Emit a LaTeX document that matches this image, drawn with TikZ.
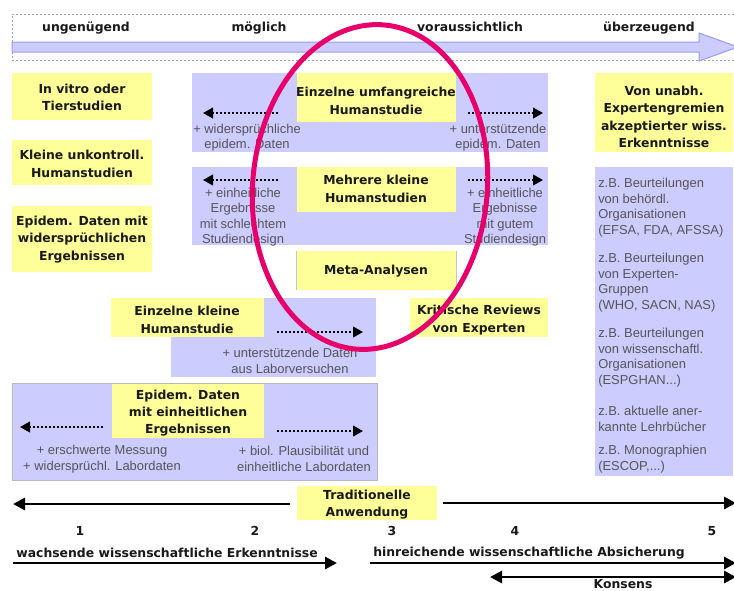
\documentclass[tikz,border=0pt]{standalone}
\usepackage{fontspec}
\setmainfont{Liberation Sans}
\newfontfamily\vfam{DejaVu Sans}
\usetikzlibrary{shapes.geometric,arrows.meta,fit}
\definecolor{yel}{HTML}{FFFF99}
\definecolor{blu}{HTML}{CCCCFF}
\definecolor{bluedge}{HTML}{9999FF}
\definecolor{gtext}{HTML}{555555}
\definecolor{ring}{HTML}{E8006A}
\tikzset{
  yrect/.style={fill=yel, inner sep=0pt},
  ytxt/.style={inner sep=0pt, align=center, text=black!90,
    font=\vfam\bfseries\fontsize{9.3}{13}\selectfont},
  bbox/.style={fill=blu, inner sep=0pt},
  gtxt/.style={text=gtext, inner sep=0pt, align=center,
    font=\fontsize{9.7}{11.6}\selectfont},
  lbl/.style={inner sep=0pt, text=black!90, text height=1.6ex, text depth=0.4ex,
    font=\vfam\bfseries\fontsize{9.3}{11}\selectfont},
  dotarr/.style={line width=1.5pt, dash pattern=on 1.5pt off 1.5pt,
    -{Triangle[length=7.5pt,width=8pt]}},
  thickarr/.style={line width=2.2pt, -{Triangle[length=9pt,width=9pt]}},
  dblarr/.style={line width=2.2pt, {Triangle[length=9pt,width=9pt]}-{Triangle[length=9pt,width=9pt]}}
}
\begin{document}
\begin{tikzpicture}[x=0.75pt,y=-0.75pt]
\useasboundingbox (0,0) rectangle (734,590);
\fill[white] (0,0) rectangle (734,590);

% top scale
\node[draw=gray!70, line width=0.75pt, dash pattern=on 1.5pt off 1.5pt, inner sep=0pt,
  fit={(12,14)(760,60)}] (scale) {};
\draw[fill=blu, draw=bluedge, line width=0.75pt]
  (12,42) -- (699,42) -- (699,33) -- (738,47) -- (699,61) -- (699,52) -- (12,52) -- cycle;
\node[lbl] (lab1) at (86,27) {ungenügend};
\node[lbl] (lab2) at (259,27) {möglich};
\node[lbl] (lab3) at (470,27) {voraussichtlich};
\node[lbl] (lab4) at (649,27) {überzeugend};

% left column
\node[yrect, fit={(12,73)(152,120)}] (invitro) {};
\node[ytxt] (invitrot) at (82,97.5) {In vitro oder\\Tierstudien};
\node[yrect, fit={(12,140)(152,185)}] (kleine) {};
\node[ytxt] (kleinet) at (82,164) {Kleine unkontroll.\\Humanstudien};
\node[yrect, fit={(12,206)(152,272)}] (epiwid) {};
\node[ytxt] (epiwidt) at (82,239.5) {Epidem. Daten mit\\widersprüchlichen\\Ergebnissen};

% middle block 1
\node[bbox, fit={(192,73)(548,152)}] (blue1) {};
\node[yrect, fit={(297,73)(456,122)}] (umf) {};
\node[ytxt] (umft) at (376,101) {Einzelne umfangreiche\\Humanstudie};
\coordinate (u1a) at (278,113); \coordinate (u1b) at (203,113);
\coordinate (u1c) at (468,113); \coordinate (u1d) at (543,113);
\draw[dotarr] (u1a) -- (u1b);
\draw[dotarr] (u1c) -- (u1d);
\node[gtxt] (u1l) at (247,137.5) {+ widersprüchliche\\epidem. Daten};
\node[gtxt] (u1r) at (498,137.5) {+ unterstützende\\epidem. Daten};

% middle block 2
\node[bbox, fit={(192,167)(548,245)}] (blue2) {};
\node[yrect, fit={(297,167)(456,212)}] (mehr) {};
\node[ytxt] (mehrt) at (376,189) {Mehrere kleine\\Humanstudien};
\coordinate (m1a) at (278,180); \coordinate (m1b) at (203,180);
\coordinate (m1c) at (468,180); \coordinate (m1d) at (543,180);
\draw[dotarr] (m1a) -- (m1b);
\draw[dotarr] (m1c) -- (m1d);
\node[gtxt] (m1l) at (243,217) {+ einheitliche\\Ergebnisse\\mit schlechtem\\Studiendesign};
\node[gtxt] (m1r) at (505,217) {+ einheitliche\\Ergebnisse\\mit gutem\\Studiendesign};

% meta
\node[yrect, fit={(297,251)(456,290)}] (meta) {};
\draw[gray!45, line width=0.8pt] (meta.north west) -- (meta.south west)
  (meta.north east) -- (meta.south east);
\node[ytxt] (metat) at (376,271) {Meta-Analysen};

% kritische reviews
\node[yrect, fit={(410,298)(548,337)}] (krit) {};
\node[ytxt] (kritt) at (479,320) {Kritische Reviews\\von Experten};

% einzelne kleine
\node[bbox, fit={(171,298)(376,377)}] (blue3) {};
\node[yrect, fit={(111,298)(264,337)}] (ekl) {};
\node[ytxt] (eklt) at (187,320) {Einzelne kleine\\Humanstudie};
\coordinate (e1a) at (277,332); \coordinate (e1b) at (363,332);
\draw[dotarr] (e1a) -- (e1b);
\node[gtxt] (e1t) at (290,361) {+ unterstützende Daten\\aus Laborversuchen};

% epidem einheitlich
\node[bbox, draw=gray!55, line width=0.6pt, fit={(12,383)(377,480)}] (blue4) {};
\node[yrect, fit={(112,384)(264,438)}] (epiein) {};
\node[ytxt] (epieint) at (188,413) {Epidem. Daten\\mit einheitlichen\\Ergebnissen};
\coordinate (p1a) at (103,427); \coordinate (p1b) at (20,427);
\coordinate (p1c) at (277,431); \coordinate (p1d) at (363,431);
\draw[dotarr] (p1a) -- (p1b);
\draw[dotarr] (p1c) -- (p1d);
\node[gtxt] (p1l) at (102,459) {+ erschwerte Messung\\+ widersprüchl. Labordaten};
\node[gtxt] (p1r) at (304,459) {+ biol. Plausibilität und\\einheitliche Labordaten};

% right column
\node[yrect, fit={(595,73)(733,152)}] (unabh) {};
\node[ytxt] (unabht) at (664,117) {Von unabh.\\Expertengremien\\akzeptierter wiss.\\Erkenntnisse};
\node[bbox, fit={(595,167)(733,476)}] (blue5) {};
\node[gtxt, align=left, anchor=west] (r1) at (598,207.5) {z.B. Beurteilungen\\von behördl.\\Organisationen\\(EFSA, FDA, AFSSA)};
\node[gtxt, align=left, anchor=west] (r2) at (598,282.5) {z.B. Beurteilungen\\von Experten-\\Gruppen\\(WHO, SACN, NAS)};
\node[gtxt, align=left, anchor=west] (r3) at (598,357.5) {z.B. Beurteilungen\\von wissenschaftl.\\Organisationen\\(ESPGHAN...)};
\node[gtxt, align=left, anchor=west] (r4) at (598,419) {z.B. aktuelle aner-\\kannte Lehrbücher};
\node[gtxt, align=left, anchor=west] (r5) at (598,459) {z.B. Monographien\\(ESCOP,...)};

% bottom
\node[yrect, fit={(297,486)(437,520)}] (trad) {};
\node[ytxt] (tradt) at (367,504.5) {Traditionelle\\Anwendung};
\coordinate (t1a) at (290,504); \coordinate (t1b) at (13,504);
\coordinate (t1c) at (443,503); \coordinate (t1d) at (736,503);
\draw[thickarr] (t1a) -- (t1b);
\draw[thickarr] (t1c) -- (t1d);
\node[lbl] (n1) at (80,531) {1};
\node[lbl] (n2) at (255,531) {2};
\node[lbl] (n3) at (392,531) {3};
\node[lbl] (n4) at (515,531) {4};
\node[lbl] (n5) at (712,531) {5};
\node[lbl] (wach) at (167,553) {wachsende wissenschaftliche Erkenntnisse};
\coordinate (w1a) at (13,563); \coordinate (w1b) at (337,563);
\draw[thickarr] (w1a) -- (w1b);
\node[lbl] (hinr) at (529,552) {hinreichende wissenschaftliche Absicherung};
\coordinate (h1a) at (370,563); \coordinate (h1b) at (736,563);
\draw[thickarr] (h1a) -- (h1b);
\coordinate (k1a) at (490,577); \coordinate (k1b) at (736,577);
\draw[dblarr] (k1a) -- (k1b);
\node[inner sep=0pt, text=black!90, font=\vfam\bfseries\fontsize{9.3}{11}\selectfont]
  (kons) at (623,584) {Konsens};

% highlight ellipse
\node[ellipse, draw=ring, line width=3.75pt, inner sep=0pt,
  minimum width=176pt, minimum height=244pt, rotate=-5] (ring) at (370,187) {};
\end{tikzpicture}
\end{document}
